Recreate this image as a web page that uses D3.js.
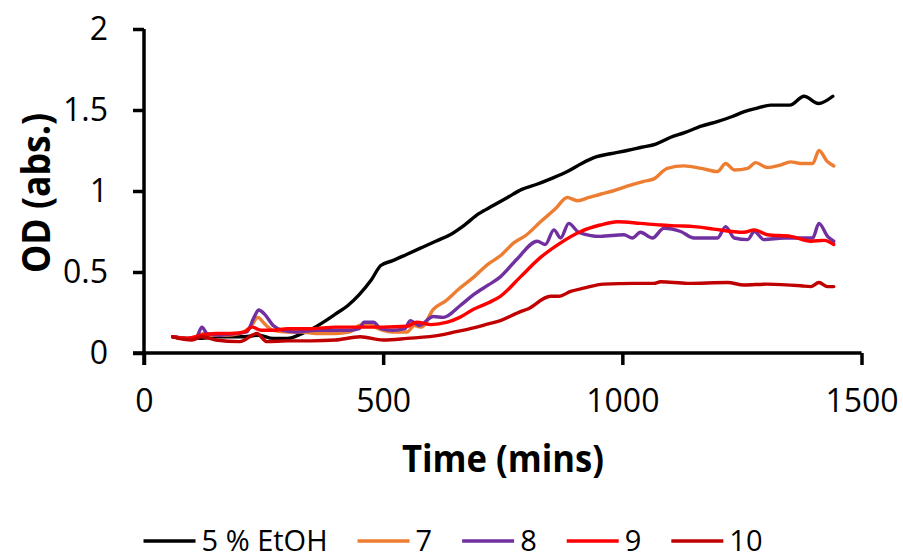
<!DOCTYPE html>
<html>
<head>
<meta charset="utf-8">
<script src="https://cdn.jsdelivr.net/npm/d3@7"></script>
<style>
  html, body { margin: 0; padding: 0; background: #fff; }
  svg { display: block; }
  text { font-family: "Open Sans", "Noto Sans", sans-serif; fill: #000; }
</style>
</head>
<body>
<svg id="chart" width="903" height="560"></svg>
<script>
// ---- data ----
const seriesNames = ["5 % EtOH", "7", "8", "9", "10"];
const seriesColors = ["#000000", "#ED7D31", "#7030A0", "#FF0000", "#C00000"];

const tBlack = [60,90,120,150,180,210,240,270,300,330,355,380,400,425,450,475,495,520,550,580,610,640,670,700,730,760,790,820,850,885,915,945,975,1010,1040,1070,1100,1130,1165,1200,1230,1255,1280,1310,1350,1380,1410,1440];
const vBlack = [0.10,0.09,0.09,0.10,0.10,0.10,0.11,0.09,0.09,0.12,0.155,0.20,0.24,0.29,0.36,0.45,0.54,0.57,0.61,0.65,0.69,0.73,0.79,0.86,0.91,0.96,1.01,1.04,1.075,1.12,1.17,1.21,1.23,1.25,1.27,1.29,1.33,1.36,1.40,1.43,1.46,1.49,1.51,1.53,1.53,1.585,1.54,1.585];

const t7 = [60,90,110,125,140,170,200,225,238,252,270,300,330,360,400,430,450,470,490,520,550,565,580,605,630,660,690,720,745,773,800,829,860,885,906,930,954,980,1010,1045,1066,1094,1129,1165,1199,1216,1234,1262,1279,1303,1330,1352,1373,1398,1411,1429,1442];
const v7 = [0.10,0.09,0.10,0.12,0.11,0.11,0.12,0.17,0.22,0.18,0.14,0.13,0.13,0.12,0.12,0.13,0.17,0.18,0.15,0.13,0.13,0.17,0.16,0.27,0.32,0.40,0.47,0.55,0.60,0.68,0.73,0.81,0.89,0.96,0.94,0.96,0.98,1.00,1.03,1.06,1.075,1.14,1.155,1.14,1.12,1.17,1.13,1.14,1.175,1.145,1.16,1.18,1.17,1.17,1.25,1.18,1.155];

const t8 = [60,90,110,121,132,160,190,215,230,240,252,270,290,320,360,400,430,450,460,480,495,520,545,557,575,605,626,660,689,720,745,780,822,839,857,871,888,909,954,1003,1021,1038,1063,1087,1122,1150,1199,1216,1234,1262,1276,1296,1338,1398,1411,1429,1442];
const v8 = [0.10,0.09,0.10,0.16,0.12,0.11,0.12,0.13,0.22,0.265,0.24,0.17,0.14,0.13,0.14,0.14,0.14,0.15,0.19,0.19,0.15,0.14,0.15,0.20,0.17,0.225,0.22,0.29,0.36,0.42,0.47,0.58,0.69,0.67,0.76,0.71,0.80,0.745,0.72,0.73,0.71,0.745,0.71,0.77,0.75,0.71,0.71,0.78,0.71,0.70,0.75,0.70,0.71,0.71,0.80,0.72,0.69];

const t9 = [60,90,120,150,180,210,226,245,270,300,350,400,450,500,550,570,600,634,660,689,720,745,787,829,871,913,954,990,1038,1080,1115,1150,1191,1230,1254,1276,1303,1352,1394,1422,1442];
const v9 = [0.10,0.09,0.11,0.12,0.12,0.13,0.16,0.14,0.14,0.15,0.15,0.16,0.16,0.16,0.165,0.19,0.175,0.19,0.22,0.27,0.31,0.35,0.47,0.59,0.68,0.75,0.79,0.81,0.80,0.79,0.785,0.78,0.765,0.75,0.745,0.76,0.73,0.72,0.69,0.695,0.67];

const t10 = [60,100,121,150,200,236,257,300,350,400,452,500,550,619,650,689,720,745,787,801,850,867,892,919,961,1024,1066,1080,1136,1220,1254,1303,1373,1394,1411,1429,1442];
const v10 = [0.10,0.08,0.10,0.08,0.07,0.12,0.07,0.075,0.075,0.08,0.10,0.08,0.09,0.11,0.13,0.155,0.18,0.20,0.255,0.27,0.35,0.35,0.38,0.40,0.425,0.43,0.43,0.44,0.43,0.435,0.42,0.425,0.415,0.41,0.435,0.41,0.41];

const xTicks = [0, 500, 1000, 1500];
const yTicks = [0, 0.5, 1, 1.5, 2];
const xTitle = "Time (mins)";
const yTitle = "OD (abs.)";

const seriesTimes = [tBlack, t7, t8, t9, t10];
const seriesValues = [vBlack, v7, v8, v9, v10];

// ---- layout ----
const svg = d3.select("#chart");
const x = d3.scaleLinear().domain([0, 1500]).range([144, 861.5]);
const y = d3.scaleLinear().domain([0, 2]).range([353, 29]);

const series = seriesNames.map((name, i) => ({
  name, color: seriesColors[i],
  points: seriesTimes[i].map((t, j) => ({ t, v: seriesValues[i][j] }))
}));

const line = d3.line().x(d => x(d.t)).y(d => y(d.v)).curve(d3.curveMonotoneX);

svg.append("g").selectAll("path")
  .data(series)
  .join("path")
  .attr("d", d => line(d.points))
  .attr("fill", "none")
  .attr("stroke", d => d.color)
  .attr("stroke-width", 3.4)
  .attr("stroke-linejoin", "round")
  .attr("stroke-linecap", "round");

// axes
const xAxis = svg.append("g")
  .attr("transform", `translate(0,${y(0)})`)
  .call(d3.axisBottom(x).tickValues(xTicks).tickFormat(d3.format("d"))
        .tickSizeInner(12).tickSizeOuter(0).tickPadding(24));
const yAxis = svg.append("g")
  .attr("transform", `translate(${x(0)},0)`)
  .call(d3.axisLeft(y).tickValues(yTicks).tickFormat(d => String(d))
        .tickSizeInner(11).tickSizeOuter(0).tickPadding(25));

[xAxis, yAxis].forEach(g => {
  g.select(".domain").attr("stroke", "#000").attr("stroke-width", 3.5);
  g.selectAll(".tick line").attr("stroke", "#000").attr("stroke-width", 3.5);
  g.selectAll(".tick text").attr("font-size", 32).attr("fill", "#000")
    .style("font-family", '"Open Sans", sans-serif');
});
xAxis.select(".domain").attr("d", `M${x(0) - 11},0H${x(1500)}`);
yAxis.select(".domain").attr("d", `M0,${y(2)}V${y(0) + 12}`);

// axis titles
svg.append("text")
  .attr("x", 503).attr("y", 472)
  .attr("text-anchor", "middle")
  .attr("font-size", 38).attr("font-weight", "bold")
  .attr("textLength", 202).attr("lengthAdjust", "spacingAndGlyphs")
  .text(xTitle);

svg.append("text")
  .attr("transform", `translate(50,193) rotate(-90)`)
  .attr("text-anchor", "middle")
  .attr("font-size", 40).attr("font-weight", "bold")
  .attr("textLength", 160).attr("lengthAdjust", "spacingAndGlyphs")
  .text(yTitle);

// legend
const legend = svg.append("g");
const items = legend.selectAll("g").data(series).join("g");
items.append("line")
  .attr("x1", 0).attr("x2", 52).attr("y1", 0).attr("y2", 0)
  .attr("stroke", d => d.color).attr("stroke-width", 3.5);
items.append("text")
  .attr("x", 58).attr("y", 10)
  .attr("font-size", 29)
  .text(d => d.name);
const gap = 30;
let cx = 0;
items.each(function() {
  const w = this.getBBox().width;
  d3.select(this).attr("transform", `translate(${cx},0)`);
  cx += w + gap;
});
const totalW = cx - gap;
legend.attr("transform", `translate(${453 - totalW / 2},541)`);
</script>
</body>
</html>
